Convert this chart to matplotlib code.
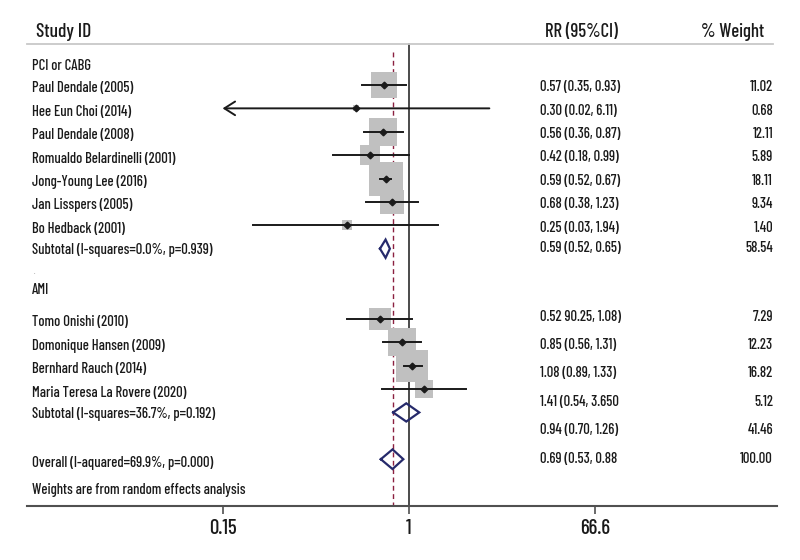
import numpy as np
import matplotlib
matplotlib.use("Agg")
import matplotlib.pyplot as plt
from matplotlib.ticker import NullLocator

# ---- data ----
pci_names = ["Paul Dendale (2005)", "Hee Eun Choi (2014)", "Paul Dendale (2008)",
             "Romualdo Belardinelli (2001)", "Jong-Young Lee (2016)",
             "Jan Lisspers (2005)", "Bo Hedback (2001)"]
pci_rr = [0.57, 0.30, 0.56, 0.42, 0.59, 0.68, 0.25]
pci_lo = [0.35, 0.02, 0.36, 0.18, 0.52, 0.38, 0.03]
pci_hi = [0.93, 6.11, 0.87, 0.99, 0.67, 1.23, 1.94]
pci_weight = [11.02, 0.68, 12.11, 5.89, 18.11, 9.34, 1.40]
pci_text = ["0.57 (0.35, 0.93)", "0.30 (0.02, 6.11)", "0.56 (0.36, 0.87)",
            "0.42 (0.18, 0.99)", "0.59 (0.52, 0.67)", "0.68 (0.38, 1.23)",
            "0.25 (0.03, 1.94)"]
pci_sub = [0.59, 0.52, 0.65]
pci_sub_weight = 58.54
pci_sub_text = "0.59 (0.52, 0.65)"
pci_sub_label = "Subtotal (I-squares=0.0%, p=0.939)"

ami_names = ["Tomo Onishi (2010)", "Domonique Hansen (2009)",
             "Bernhard Rauch (2014)", "Maria Teresa La Rovere (2020)"]
ami_rr = [0.52, 0.85, 1.08, 1.41]
ami_lo = [0.25, 0.56, 0.89, 0.54]
ami_hi = [1.08, 1.31, 1.33, 3.65]
ami_weight = [7.29, 12.23, 16.82, 5.12]
ami_text = ["0.52 90.25, 1.08)", "0.85 (0.56, 1.31)", "1.08 (0.89, 1.33)",
            "1.41 (0.54, 3.650"]
ami_sub = [0.94, 0.70, 1.26]
ami_sub_weight = 41.46
ami_sub_text = "0.94 (0.70, 1.26)"
ami_sub_label = "Subtotal (I-squares=36.7%, p=0.192)"

overall = [0.69, 0.53, 0.88]
overall_weight = 100.00
overall_text = "0.69 (0.53, 0.88"
overall_label = "Overall (I-aquared=69.9%, p=0.000)"

tick_vals = [1 / 66.6, 1, 66.6]
tick_labels = ["0.15", "1", "66.6"]

# ---- layout ----
plt.rcParams['font.family'] = ["Barlow Condensed", "DejaVu Sans"]
plt.rcParams['font.weight'] = 500
ink = "#1a1a1a"
gray_box = "#c0c0c0"
navy = "#262a6b"
FS = 10.5

PX_ROW = 23.4      # pixels per row
PX_LN = 44.4       # pixels per natural-log unit on the x scale
X1_PX = 409        # pixel position of RR = 1


def px2x(px):
    return np.exp((px - X1_PX) / PX_LN)


fig = plt.figure(figsize=(8, 5.6), dpi=100)
ax = fig.add_axes([0, 54 / 560, 1, 506 / 560])
ax.set_xscale('log')
ax.set_xlim(px2x(0), px2x(800))
ax.set_ylim(18, -85 / PX_ROW)
tr = ax.get_yaxis_transform()   # x in axes fraction, y in rows

pci_rows = list(range(7))
pci_sub_row = 7
ami_rows = [10, 11, 12, 13]
ami_sub_row = 14
overall_row = 16

# right hand text rows (the published figure has them shifted in the AMI part)
pci_txt_rows = [r + 0.1 for r in pci_rows]
ami_txt_rows = [9.92, 11.12, 12.32, 13.55]
ami_sub_txt_row = 14.76
overall_txt_row = 15.98

# headers
ax.text(36 / 800, -2.27, "Study ID", transform=tr, fontsize=14, color=ink, va='center')
ax.text(618 / 800, -2.27, "RR (95%CI)", transform=tr, fontsize=13.5, color=ink,
        va='center', ha='right')
ax.text(764 / 800, -2.27, "% Weight", transform=tr, fontsize=13.5, color=ink,
        va='center', ha='right')
ax.plot([27 / 800, 773 / 800], [-1.75, -1.75], transform=tr, color="#c8c8c8", lw=1.3)

# reference lines
ax.plot([1, 1], [-1.75, 18], color=ink, lw=1.1, zorder=1)
ax.plot([overall[0], overall[0]], [-1.4, 17.95], color="#8b2040", lw=1.0,
        ls=(0, (3.5, 2.5)), zorder=1)

# group labels
ax.text(32 / 800, -0.8, "PCI or CABG", transform=tr, fontsize=FS, color=ink, va='center')
ax.text(32 / 800, 8.75, "AMI", transform=tr, fontsize=FS, color=ink, va='center')
ax.text(34 / 800, 8.0, ".", transform=tr, fontsize=5, color="#777777", va='center')


def study(names, rr, lo, hi, w, rows, labels, txt_rows, arrow=None):
    for i in range(len(names)):
        y = rows[i]
        side = 5.76 * np.sqrt(w[i])
        ax.scatter([rr[i]], [y], marker='s', s=side ** 2, color=gray_box,
                   linewidths=0, zorder=2)
        if arrow is not None and arrow[i]:
            ax.annotate("", xy=(tick_vals[0], y), xytext=(hi[i], y),
                        arrowprops=dict(arrowstyle="->, head_length=0.55, head_width=0.35",
                                        lw=1.4, color=ink, mutation_scale=14,
                                        shrinkA=0, shrinkB=0), zorder=3)
        else:
            ax.plot([lo[i], hi[i]], [y, y], color=ink, lw=1.4, zorder=3)
        ax.plot([rr[i]], [y], marker='D', ms=3.4, color=ink, zorder=4)
        ax.text(32 / 800, y + 0.15, names[i], transform=tr, fontsize=FS,
                color=ink, va='center')
        ax.text(540 / 800, txt_rows[i], labels[i], transform=tr, fontsize=FS,
                color=ink, va='center')
        ax.text(773 / 800, txt_rows[i], "%.2f" % w[i], transform=tr, fontsize=FS,
                color=ink, va='center', ha='right')


def diamond(est, y, h=0.39):
    xs = [est[1], est[0], est[2], est[0], est[1]]
    ys = [y, y - h, y, y + h, y]
    ax.plot(xs, ys, color=navy, lw=1.6, zorder=4, solid_joinstyle='miter')


study(pci_names, pci_rr, pci_lo, pci_hi, pci_weight, pci_rows, pci_text,
      pci_txt_rows, arrow=[False, True, False, False, False, False, False])
study(ami_names, ami_rr, ami_lo, ami_hi, ami_weight, ami_rows, ami_text, ami_txt_rows)

diamond(pci_sub, pci_sub_row)
ax.text(32 / 800, pci_sub_row + 0.05, pci_sub_label, transform=tr, fontsize=FS,
        color=ink, va='center')
ax.text(540 / 800, pci_sub_row - 0.05, pci_sub_text, transform=tr, fontsize=FS,
        color=ink, va='center')
ax.text(773 / 800, pci_sub_row - 0.05, "%.2f" % pci_sub_weight, transform=tr,
        fontsize=FS, color=ink, va='center', ha='right')

diamond(ami_sub, ami_sub_row)
ax.text(32 / 800, ami_sub_row + 0.05, ami_sub_label, transform=tr, fontsize=FS,
        color=ink, va='center')
ax.text(540 / 800, ami_sub_txt_row, ami_sub_text, transform=tr, fontsize=FS,
        color=ink, va='center')
ax.text(773 / 800, ami_sub_txt_row, "%.2f" % ami_sub_weight, transform=tr,
        fontsize=FS, color=ink, va='center', ha='right')

diamond(overall, overall_row, h=0.42)
ax.text(32 / 800, overall_row + 0.15, overall_label, transform=tr, fontsize=FS,
        color=ink, va='center')
ax.text(540 / 800, overall_txt_row, overall_text, transform=tr, fontsize=FS,
        color=ink, va='center')
ax.text(773 / 800, overall_txt_row, "%.2f" % overall_weight, transform=tr,
        fontsize=FS, color=ink, va='center', ha='right')

ax.text(32 / 800, 17.3, "Weights are from random effects analysis", transform=tr,
        fontsize=FS, color=ink, va='center')

# x axis
for s in ['left', 'right', 'top']:
    ax.spines[s].set_visible(False)
ax.spines['bottom'].set_bounds(px2x(27), px2x(777))
ax.spines['bottom'].set_color("#505050")
ax.spines['bottom'].set_linewidth(1.5)
ax.set_xticks(tick_vals)
ax.set_xticklabels(tick_labels)
ax.xaxis.set_minor_locator(NullLocator())
ax.tick_params(axis='x', length=6, width=1.2, color="#505050", labelsize=15,
               labelcolor=ink, pad=3)
ax.set_yticks([])
ax.patch.set_alpha(0)

fig.savefig("out.png", dpi=100, facecolor="white")
